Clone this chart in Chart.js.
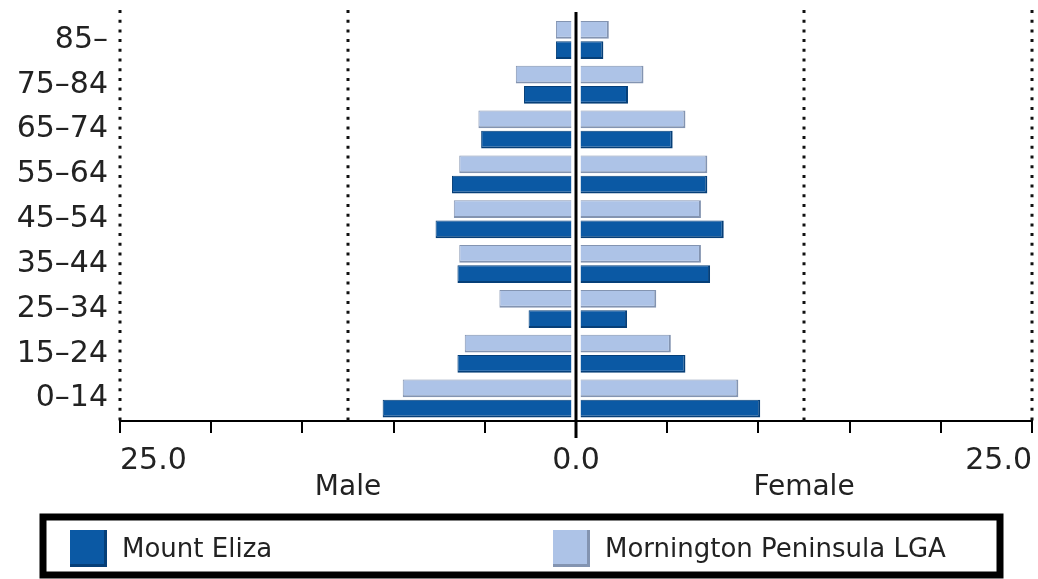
<!DOCTYPE html>
<html>
<head>
<meta charset="utf-8">
<script src="https://cdn.jsdelivr.net/npm/chart.js@4"></script>
<style>
  html, body { margin: 0; padding: 0; background: #fff; overflow: hidden; }
  #wrap { width: 1042px; height: 579px; position: relative; }
</style>
</head>
<body>
<div id="wrap"><canvas id="pyr"></canvas></div>
<script>
// ── DATA (top row first) ─────────────────────────────────────
const ageGroups      = ['85–', '75–84', '65–74', '55–64', '45–54', '35–44', '25–34', '15–24', '0–14'];
const elizaMale      = [1.1, 2.85, 5.2, 6.8, 7.7, 6.5, 2.6, 6.5, 10.6];
const elizaFemale    = [1.5, 2.85, 5.3, 7.2, 8.1, 7.35, 2.8, 6.0, 10.1];
const morningMale    = [1.1, 3.3, 5.35, 6.4, 6.7, 6.4, 4.2, 6.1, 9.5];
const morningFemale  = [1.8, 3.7, 6.0, 7.2, 6.85, 6.85, 4.4, 5.2, 8.9];
const seriesNames    = ['Mount Eliza', 'Mornington Peninsula LGA'];
const sideNames      = ['Male', 'Female'];
const xTickLabels    = { '-25': '25.0', '0': '0.0', '25': '25.0' };

const GAP   = 0.25;   // small gap either side of the centre line
const FONT  = '"DejaVu Sans", sans-serif';
const DARK  = '#0b59a4', DARK_EDGE  = '#063f78';
const LIGHT = '#adc3e7', LIGHT_EDGE = '#8394b1';

const male   = arr => arr.map(v => [-GAP, -v]);
const female = arr => arr.map(v => [GAP, v]);

const barBase = { borderSkipped: 'start', borderWidth: { top: 1, bottom: 2, left: 1, right: 2 } };

// ── DECORATION PLUGIN ────────────────────────────────────────
const pyramidDeco = {
  id: 'pyramidDeco',
  beforeDatasetsDraw(chart) {
    const { ctx, chartArea, scales: { x } } = chart;
    ctx.save();
    ctx.strokeStyle = '#111';
    ctx.lineWidth = 3;
    ctx.setLineDash([3, 6.7]);
    [-25, -12.5, 12.5, 25].forEach(v => {
      const px = Math.round(x.getPixelForValue(v));
      ctx.beginPath();
      ctx.moveTo(px, 10);
      ctx.lineTo(px, chartArea.bottom);
      ctx.stroke();
    });
    ctx.restore();
  },
  afterDatasetsDraw(chart) {
    const { ctx, chartArea, scales: { x } } = chart;
    const px = Math.round(x.getPixelForValue(0));
    ctx.save();
    ctx.strokeStyle = '#000';
    ctx.lineWidth = 3;
    ctx.beginPath();
    ctx.moveTo(px, 12);
    ctx.lineTo(px, chartArea.bottom + 17);
    ctx.stroke();

    // side titles
    ctx.fillStyle = '#222';
    ctx.font = '28px ' + FONT;
    ctx.textAlign = 'center';
    ctx.textBaseline = 'alphabetic';
    ctx.fillText(sideNames[0], x.getPixelForValue(-12.5), 495);
    ctx.fillText(sideNames[1], x.getPixelForValue(12.5), 495);

    // legend box
    ctx.lineWidth = 7;
    ctx.strokeStyle = '#000';
    ctx.strokeRect(43, 517, 957, 58);

    const items = [
      { name: seriesNames[0], fill: DARK,  edge: DARK_EDGE,  x: 70 },
      { name: seriesNames[1], fill: LIGHT, edge: LIGHT_EDGE, x: 553 },
    ];
    ctx.textAlign = 'left';
    ctx.font = '26px ' + FONT;
    items.forEach(it => {
      ctx.fillStyle = it.fill;
      ctx.fillRect(it.x, 530, 37, 37);
      ctx.fillStyle = it.edge;
      ctx.fillRect(it.x + 34, 530, 3, 37);
      ctx.fillRect(it.x, 564, 37, 3);
      ctx.fillStyle = '#222';
      ctx.fillText(it.name, it.x + 52, 557);
    });
    ctx.restore();
  },
};

// ── CHART ────────────────────────────────────────────────────
new Chart(document.getElementById('pyr'), {
  type: 'bar',
  data: {
    labels: ageGroups,
    datasets: [
      { ...barBase, label: seriesNames[1], stack: 'mp', data: male(morningMale),   backgroundColor: LIGHT, borderColor: LIGHT_EDGE },
      { ...barBase, label: seriesNames[1], stack: 'mp', data: female(morningFemale), backgroundColor: LIGHT, borderColor: LIGHT_EDGE },
      { ...barBase, label: seriesNames[0], stack: 'me', data: male(elizaMale),     backgroundColor: DARK,  borderColor: DARK_EDGE },
      { ...barBase, label: seriesNames[0], stack: 'me', data: female(elizaFemale), backgroundColor: DARK,  borderColor: DARK_EDGE },
    ],
  },
  options: {
    indexAxis: 'y',
    responsive: true, maintainAspectRatio: false,
    animation: false,
    categoryPercentage: 0.9,
    barPercentage: 0.88,
    layout: { padding: { top: 0, right: 2, left: 0, bottom: 0 } },
    plugins: { legend: { display: false }, tooltip: { enabled: false } },
    scales: {
      x: {
        type: 'linear', min: -25, max: 25, stacked: false,
        afterFit: s => { s.height = 158; },
        afterBuildTicks: s => { s.ticks = [-25, -20, -15, -10, -5, 0, 5, 10, 15, 20, 25].map(v => ({ value: v })); },
        border: { display: true, color: '#000', width: 2 },
        grid: { drawOnChartArea: false, drawTicks: true, tickLength: 12, color: '#000', lineWidth: 2 },
        ticks: {
          autoSkip: false, maxRotation: 0, align: 'inner', padding: 10,
          color: '#222', font: { family: FONT, size: 30 },
          callback: v => xTickLabels[String(v)] || '',
        },
      },
      y: {
        afterFit: s => { s.width = 120; },
        grid: { display: false },
        border: { display: false },
        ticks: { color: '#222', padding: 4, font: { family: FONT, size: 30, lineHeight: 0.9 } },
      },
    },
  },
  plugins: [pyramidDeco],
});
</script>
</body>
</html>
